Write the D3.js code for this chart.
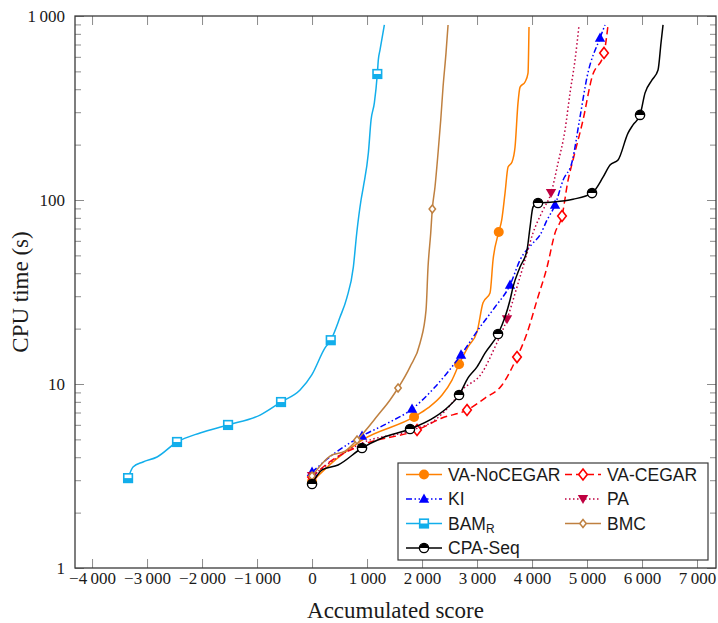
<!DOCTYPE html>
<html>
<head>
<meta charset="utf-8">
<script src="https://cdn.jsdelivr.net/npm/d3@7"></script>
<style>
  body { margin: 0; background: #fff; }
  svg { display: block; }
  .axis text { font-family: "Liberation Serif", serif; font-size: 17px; fill: #1a1a1a; }
  .axis line { stroke: #8c8c8c; stroke-width: 1; }
  .axis .domain { display: none; }
  .axis-label { font-family: "Liberation Serif", serif; font-size: 23px; fill: #1a1a1a; }
  .legend text { font-family: "Liberation Sans", sans-serif; font-size: 17.5px; fill: #1a1a1a; }
</style>
</head>
<body>
<svg id="chart" width="718" height="623"></svg>
<script>
// tick values
const xTicks = [-4000, -3000, -2000, -1000, 0, 1000, 2000, 3000, 4000, 5000, 6000, 7000];
const yTicks = [1, 10, 100, 1000];

// VA-NoCEGAR
const vaNoCegarScore = [0, 418, 909, 1855, 2109, 2364, 2545, 2673, 2836, 3000, 3109, 3236, 3291, 3395, 3449, 3509, 3564, 3636, 3691, 3745, 3782, 3873, 3927, 3945];
const vaNoCegarTime = [2.95, 3.86, 4.96, 6.62, 7.41, 8.71, 10.5, 12.8, 15.9, 19.2, 27.6, 31.2, 47.2, 67, 77.9, 109, 151, 161, 194, 337, 411, 438, 490, 872];
const vaNoCegarMarks = [0, 3, 7, 13];

// VA-CEGAR
const vaCegarScore = [0, 291, 909, 1909, 2364, 2818, 3145, 3455, 3727, 3909, 4091, 4273, 4418, 4545, 4655, 4745, 4927, 5091, 5309, 5382];
const vaCegarTime = [3.12, 3.72, 4.66, 5.62, 6.53, 7.22, 8.39, 9.88, 14.0, 18.9, 28.6, 43.2, 66.2, 81.9, 128, 165, 272, 466, 630, 894];
const vaCegarMarks = [0, 3, 5, 8, 13, 18];

// KI
const kiScore = [0, 418, 909, 1382, 1818, 2236, 2709, 3055, 3327, 3600, 3782, 4018, 4145, 4273, 4418, 4564, 4727, 4873, 5000, 5236, 5327];
const kiTime = [3.32, 4.22, 5.22, 6.14, 7.31, 9.63, 14.4, 20.4, 26.2, 34.5, 47.2, 58.4, 64.5, 77.9, 93.9, 128, 161, 283, 466, 759, 894];
const kiMarks = [0, 2, 4, 6, 9, 14, 19];

// PA
const paScore = [0, 909, 1818, 2236, 2545, 2727, 3091, 3327, 3545, 3727, 3873, 4018, 4200, 4345, 4473, 4600, 4691, 4782, 4855];
const paTime = [3.16, 4.78, 5.62, 6.37, 7.88, 9.27, 11.5, 15.9, 22.5, 33.7, 47.2, 66.2, 88.3, 109, 159, 240, 382, 577, 894];
const paMarks = [0, 8, 13];

// BAM_R
const bamScore = [-3345, -3255, -3073, -2818, -2455, -2036, -1527, -945, -564, -218, -5, 236, 340, 509, 631, 751, 813, 891, 933, 1024, 1073, 1133, 1187, 1205, 1236, 1315];
const bamTime = [3.08, 3.54, 3.77, 4.01, 4.84, 5.42, 5.99, 6.78, 7.98, 9.27, 11.2, 15.7, 17.3, 23.1, 29.3, 43.2, 66.2, 100, 118, 180, 272, 337, 484, 577, 654, 894];
const bamMarks = [0, 4, 6, 8, 12, 22];

// BMC
const bmcScore = [0, 327, 600, 818, 1200, 1418, 1564, 1782, 1964, 2073, 2109, 2158, 2187, 2236, 2291, 2340, 2382, 2436, 2473];
const bmcTime = [3.16, 4.06, 4.32, 4.96, 6.78, 8.19, 9.51, 12.4, 16.7, 25.3, 43.2, 66.2, 89.4, 118, 180, 272, 411, 630, 894];
const bmcMarks = [0, 3, 6, 12];

// CPA-Seq
const cpaScore = [0, 182, 473, 909, 1273, 1782, 2236, 2473, 2673, 2836, 3000, 3145, 3382, 3509, 3600, 3655, 3782, 3909, 3964, 4018, 4109, 4382, 4745, 5091, 5291, 5418, 5564, 5745, 5836, 5964, 6055, 6182, 6291, 6345, 6382];
const cpaTime = [2.86, 3.41, 3.63, 4.49, 5.09, 5.69, 6.62, 7.50, 8.71, 10.8, 12.4, 14.7, 18.7, 23.1, 28.6, 33.7, 43.2, 53.5, 71.3, 91.6, 96.3, 97.5, 101, 109, 133, 155, 165, 231, 256, 290, 382, 449, 509, 713, 894];
const cpaMarks = [0, 3, 5, 8, 12, 20, 23, 29];

const series = [
  { name: 'VA-NoCEGAR', score: vaNoCegarScore, time: vaNoCegarTime, marks: vaNoCegarMarks, color: '#ff8000', dash: null, mark: 'circle' },
  { name: 'VA-CEGAR', score: vaCegarScore, time: vaCegarTime, marks: vaCegarMarks, color: '#ff0000', dash: '7,4', mark: 'diamond' },
  { name: 'KI', score: kiScore, time: kiTime, marks: kiMarks, color: '#0000ff', dash: '6,2.5,1.5,2.5,1.5,2.5', mark: 'triangle' },
  { name: 'PA', score: paScore, time: paTime, marks: paMarks, color: '#bf0040', dash: '1.5,2.5', mark: 'triangleDown' },
  { name: 'BAM', sub: 'R', score: bamScore, time: bamTime, marks: bamMarks, color: '#12aeeb', dash: null, mark: 'halfsquare' },
  { name: 'BMC', score: bmcScore, time: bmcTime, marks: bmcMarks, color: '#bf8040', dash: null, mark: 'smalldiamond' },
  { name: 'CPA-Seq', score: cpaScore, time: cpaTime, marks: cpaMarks, color: '#000000', dash: null, mark: 'halfcircle' }
];

const plotLeft = 75, plotRight = 716, plotTop = 16, plotBottom = 568;

const x = d3.scaleLinear().domain([-4310, 7345]).range([plotLeft, plotRight]);
const y = d3.scaleLog().domain([1, 1000]).range([plotBottom, plotTop]);

const svg = d3.select('#chart');

const fmt = d => (d < 0 ? '\u2212' : '') + d3.format(',')(Math.abs(d)).replace(/,/g, '\u2009');

const minorY = [];
[1, 10, 100].forEach(b => { for (let k = 2; k <= 9; k++) minorY.push(b * k); });

// axes (ticks pointing inwards, as pgfplots does)
svg.append('g').attr('class', 'axis')
  .attr('transform', `translate(0,${plotBottom})`)
  .call(d3.axisBottom(x).tickValues(xTicks).tickSizeInner(-9).tickSizeOuter(0).tickFormat(fmt))
  .call(g => g.selectAll('text').attr('dy', null).attr('y', 16));

svg.append('g').attr('class', 'axis')
  .attr('transform', `translate(0,${plotTop})`)
  .call(d3.axisTop(x).tickValues(xTicks).tickSizeInner(-9).tickSizeOuter(0).tickFormat(''));

svg.append('g').attr('class', 'axis')
  .attr('transform', `translate(${plotLeft},0)`)
  .call(d3.axisLeft(y).tickValues(yTicks).tickSizeInner(-9).tickSizeOuter(0).tickPadding(10).tickFormat(fmt));

svg.append('g').attr('class', 'axis')
  .attr('transform', `translate(${plotLeft},0)`)
  .call(d3.axisLeft(y).tickValues(minorY).tickSizeInner(-6).tickSizeOuter(0).tickFormat(''));

svg.append('g').attr('class', 'axis')
  .attr('transform', `translate(${plotRight},0)`)
  .call(d3.axisRight(y).tickValues(yTicks).tickSizeInner(-9).tickSizeOuter(0).tickFormat(''));

svg.append('g').attr('class', 'axis')
  .attr('transform', `translate(${plotRight},0)`)
  .call(d3.axisRight(y).tickValues(minorY).tickSizeInner(-6).tickSizeOuter(0).tickFormat(''));

svg.append('rect')
  .attr('x', plotLeft).attr('y', plotTop)
  .attr('width', plotRight - plotLeft).attr('height', plotBottom - plotTop)
  .attr('fill', 'none').attr('stroke', '#3a3a3a').attr('stroke-width', 1.3);

// axis labels
svg.append('text').attr('class', 'axis-label')
  .attr('x', (plotLeft + plotRight) / 2).attr('y', 618)
  .attr('text-anchor', 'middle')
  .text('Accumulated score');

svg.append('text').attr('class', 'axis-label')
  .attr('transform', `translate(28,${(plotTop + plotBottom) / 2}) rotate(-90)`)
  .attr('text-anchor', 'middle')
  .text('CPU time (s)');

function drawMark(g, type, color) {
  if (type === 'circle') {
    g.append('circle').attr('r', 5).attr('fill', color);
  } else if (type === 'diamond') {
    g.append('path').attr('d', 'M0,-5.5L4.3,0L0,5.5L-4.3,0Z')
      .attr('fill', '#fff').attr('stroke', color).attr('stroke-width', 1.6);
  } else if (type === 'triangle') {
    g.append('path').attr('d', 'M0,-5.5L5.2,3.8L-5.2,3.8Z').attr('fill', color);
  } else if (type === 'triangleDown') {
    g.append('path').attr('d', 'M0,5L5.2,-4L-5.2,-4Z').attr('fill', color);
  } else if (type === 'halfsquare') {
    g.append('rect').attr('x', -4.3).attr('y', -4.3).attr('width', 8.6).attr('height', 8.6)
      .attr('fill', '#fff').attr('stroke', color).attr('stroke-width', 1.6);
    g.append('rect').attr('x', -4.3).attr('y', 0).attr('width', 8.6).attr('height', 4.3).attr('fill', color);
  } else if (type === 'smalldiamond') {
    g.append('path').attr('d', 'M0,-4L3.2,0L0,4L-3.2,0Z')
      .attr('fill', '#fff').attr('stroke', color).attr('stroke-width', 1.5);
  } else if (type === 'halfcircle') {
    g.append('circle').attr('r', 4.6).attr('fill', '#fff').attr('stroke', color).attr('stroke-width', 1.4);
    g.append('path').attr('d', 'M-4.6,0A4.6,4.6 0 0 1 4.6,0Z').attr('fill', color);
  }
}

const line = d3.line()
  .x(d => x(d[0]))
  .y(d => y(d[1]))
  .curve(d3.curveMonotoneX);

series.forEach(s => {
  const pts = s.score.map((v, i) => [v, s.time[i]]);
  const g = svg.append('g');
  g.append('path')
    .attr('d', line(pts))
    .attr('fill', 'none')
    .attr('stroke', s.color)
    .attr('stroke-width', 1.5)
    .attr('stroke-dasharray', s.dash);
  s.marks.forEach(i => {
    const m = g.append('g').attr('transform', `translate(${x(pts[i][0])},${y(pts[i][1])})`);
    drawMark(m, s.mark, s.color);
  });
});

// legend, two columns
const legend = svg.append('g').attr('class', 'legend');
legend.append('rect')
  .attr('x', 398).attr('y', 463).attr('width', 310).attr('height', 97)
  .attr('fill', '#fff').attr('stroke', '#3a3a3a').attr('stroke-width', 1.2);

series.forEach((s, i) => {
  const col = i % 2, row = Math.floor(i / 2);
  const lx = col === 0 ? 406 : 565;
  const ly = 474.5 + row * 24.5;
  const e = legend.append('g');
  e.append('line')
    .attr('x1', lx).attr('x2', lx + 36).attr('y1', ly).attr('y2', ly)
    .attr('stroke', s.color).attr('stroke-width', 1.5)
    .attr('stroke-dasharray', s.dash);
  drawMark(e.append('g').attr('transform', `translate(${lx + 18},${ly})`), s.mark, s.color);
  const t = e.append('text').attr('x', lx + 42).attr('y', ly).attr('dy', '0.36em').text(s.name);
  if (s.sub) {
    t.append('tspan').attr('dy', '0.3em').attr('font-size', '12px').text(s.sub);
  }
});
</script>
</body>
</html>
